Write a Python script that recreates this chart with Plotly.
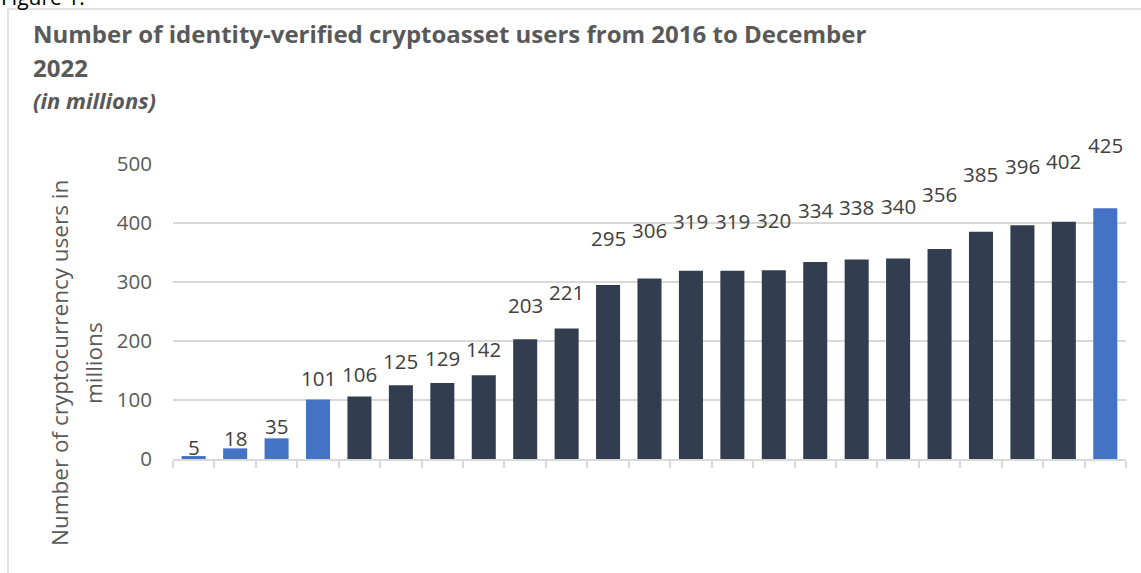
import plotly.graph_objects as go

# Identity-verified cryptoasset users, in millions, one value per period
users_millions = [5, 18, 35, 101, 106, 125, 129, 142, 203, 221, 295, 306,
                  319, 319, 320, 334, 338, 340, 356, 385, 396, 402, 425]
highlighted = [True, True, True, True] + [False] * 18 + [True]
y_ticks = [0, 100, 200, 300, 400, 500]

title_line1 = "Number of identity-verified cryptoasset users from 2016 to December"
title_line2 = "2022"
subtitle = "(in millions)"
y_title_lines = ["Number of cryptocurrency users in", "millions"]

W, H = 1141, 573
BLUE = "#4472C4"
NAVY = "#323D4F"
GRID = "#D9D9D9"
FONT = "Open Sans"

Y_MAX = 500
PLOT_LEFT, PLOT_RIGHT = 173, 1126
PLOT_TOP, PLOT_BOTTOM = 164, 459

positions = list(range(len(users_millions)))
colors = [BLUE if h else NAVY for h in highlighted]


def px_x(px):
    return px / W


def px_y(py):
    return 1 - py / H


y_dom = [px_y(PLOT_BOTTOM), px_y(PLOT_TOP)]


def value_to_paper(v):
    return y_dom[0] + (y_dom[1] - y_dom[0]) * v / Y_MAX


fig = go.Figure()
fig.add_trace(go.Bar(
    x=positions,
    y=users_millions,
    marker=dict(color=colors, line=dict(width=0)),
    hoverinfo="y",
    showlegend=False,
))

annotations = []
# value labels sit above each bar, lifted in proportion to the value
for pos, val in zip(positions, users_millions):
    annotations.append(dict(
        x=pos, y=value_to_paper(val * 1.22 + 14), xref="x", yref="paper",
        text=str(val), showarrow=False,
        xanchor="center", yanchor="middle",
        font=dict(family=FONT, size=20.5, color="#404040"),
    ))

# chart title block
annotations += [
    dict(x=px_x(-1), y=px_y(-3), xref="paper", yref="paper", text="Figure 1:",
         showarrow=False, xanchor="left", yanchor="middle",
         font=dict(family=FONT, size=21, color="#000000")),
    dict(x=px_x(31), y=px_y(34), xref="paper", yref="paper", text=f"<b>{title_line1}</b>",
         showarrow=False, xanchor="left", yanchor="middle",
         font=dict(family=FONT, size=24, color="#595959")),
    dict(x=px_x(31), y=px_y(68), xref="paper", yref="paper", text=f"<b>{title_line2}</b>",
         showarrow=False, xanchor="left", yanchor="middle",
         font=dict(family=FONT, size=24, color="#595959")),
    dict(x=px_x(31), y=px_y(100), xref="paper", yref="paper", text=f"<b><i>{subtitle}</i></b>",
         showarrow=False, xanchor="left", yanchor="middle",
         font=dict(family=FONT, size=22, color="#595959")),
]
# rotated y-axis title, one annotation per line
for cx, line in zip([60, 94], y_title_lines):
    annotations.append(dict(
        x=px_x(cx), y=px_y(363), xref="paper", yref="paper", text=line,
        showarrow=False, textangle=-90, xanchor="center", yanchor="middle",
        font=dict(family=FONT, size=22.5, color="#595959"),
    ))

fig.update_layout(
    width=W, height=H,
    margin=dict(l=0, r=0, t=0, b=0),
    paper_bgcolor="white", plot_bgcolor="white",
    bargap=0.42,
    annotations=annotations,
    shapes=[dict(type="rect", xref="paper", yref="paper",
                 x0=px_x(8), y0=px_y(9), x1=1.02, y1=-0.02,
                 line=dict(color=GRID, width=1.5), layer="below")],
    xaxis=dict(
        domain=[px_x(PLOT_LEFT), px_x(PLOT_RIGHT)],
        range=[-0.5, len(users_millions) - 0.5],
        showgrid=False, zeroline=False, automargin=False,
        showline=True, linecolor=GRID, linewidth=1.5,
        ticks="outside", ticklen=7, tickcolor=GRID, tickwidth=1.5,
        tick0=-0.5, dtick=1, showticklabels=False,
    ),
    yaxis=dict(
        domain=y_dom,
        range=[0, Y_MAX],
        tickvals=y_ticks,
        showgrid=True, gridcolor=GRID, gridwidth=1.5,
        zeroline=False, showline=False, ticks="", automargin=False,
        tickfont=dict(family=FONT, size=20.5, color="#595959"),
        ticklabelstandoff=20,
    ),
)

fig.write_html("out.html")
